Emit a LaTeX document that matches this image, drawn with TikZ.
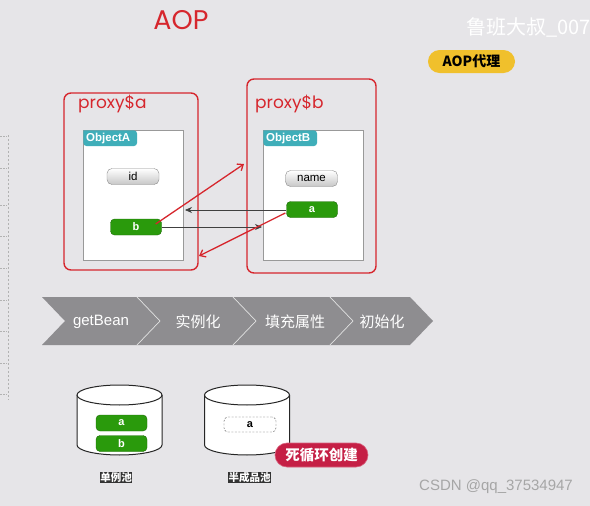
\documentclass[tikz,border=0pt]{standalone}
\usepackage{fontspec}
\setmainfont{Liberation Sans}
\newfontfamily\cjk{Noto Sans CJK SC}
\newfontfamily\geo{Poppins}
\usetikzlibrary{arrows.meta,shapes.misc,calc}
\definecolor{bg}{HTML}{E6E5E8}
\definecolor{pred}{HTML}{D6262D}
\definecolor{beangreen}{HTML}{2A9A0C}
\definecolor{tabteal}{HTML}{3FAEB9}
\definecolor{chev}{HTML}{8E8D90}
\definecolor{pillyel}{HTML}{F0C02C}
\definecolor{crimson}{HTML}{C51F45}
\tikzset{
  proxybox/.style={draw=pred,line width=1.4pt,rounded corners=7pt},
  objbox/.style={draw=black!40,fill=white,line width=0.8pt},
  tablabel/.style={text=white,font=\bfseries\fontsize{11.5}{13}\selectfont,anchor=west,inner sep=0pt},
  grayfield/.style={rectangle,rounded corners=5pt,draw=black!45,top color=white,bottom color=black!22,font=\fontsize{11.5}{13}\selectfont,minimum width=52pt,minimum height=16pt,inner sep=0pt},
  greenbean/.style={draw=beangreen!70!black,fill=beangreen,rounded corners=4pt,text=white,font=\bfseries\fontsize{11}{13}\selectfont,minimum width=51pt,minimum height=16pt,inner sep=0pt},
  dashbean/.style={draw=black!70,dash pattern=on 2pt off 1.5pt,rounded corners=4pt,font=\bfseries\fontsize{11}{13}\selectfont,minimum width=52pt,minimum height=15pt,inner sep=0pt},
  redarrow/.style={draw=pred,line width=1.3pt,-{Straight Barb[length=5pt,width=8pt]}},
  blackarrow/.style={draw=black!75,line width=0.7pt,-{Stealth[length=7pt,width=6pt]}},
  chevtext/.style={text=white,font=\fontsize{15}{18}\selectfont},
  cylline/.style={draw=black!85,line width=1pt,fill=white},
  poollabel/.style={fill=black!80,text=white,font=\cjk\bfseries\fontsize{10.5}{12}\selectfont,inner sep=0.5pt},
}
\begin{document}
\begin{tikzpicture}[x=1pt,y=-1pt]
\fill[bg] (0,0) rectangle (590,506);
\useasboundingbox (0,0) rectangle (590,506);

% left dashed ruler
\draw[black!30,dash pattern=on 2pt off 2pt,line width=0.6pt] (8,135) -- (8,400);
\foreach \yy in {136,168,205,236,268,300,331,363,394}
  \draw[black!30,dash pattern=on 1.5pt off 1.5pt,line width=0.6pt] (0,\yy) -- (7,\yy);

% title and watermark
\node[text=pred,font=\geo\fontsize{27}{30}\selectfont] (title) at (181,20) {AOP};
\node[text=white,font=\cjk\fontsize{20}{23}\selectfont,anchor=west,inner sep=0pt] (wm) at (466,27) {鲁班大叔\_007};
\node[rounded rectangle,fill=pillyel,minimum width=87pt,minimum height=23pt,inner sep=0pt,font=\cjk\bfseries\fontsize{14}{16}\selectfont] (aoppill) at (471.5,61.5) {AOP代理};

% proxy boxes
\draw[proxybox] (64,93) rectangle (198,270);
\node[text=pred,font=\geo\fontsize{17}{20}\selectfont,anchor=west,inner sep=0pt] (palabel) at (78,104) {proxy\$a};
\draw[proxybox] (247,79) rectangle (376,273);
\node[text=pred,font=\geo\fontsize{17}{20}\selectfont,anchor=west,inner sep=0pt] (pblabel) at (255,104) {proxy\$b};

% object boxes
\draw[objbox] (83,130) rectangle (183,260);
\fill[tabteal,rounded corners=3pt] (83.4,130.4) -- (137,130.4) -- (137,146) -- (83.4,146) [sharp corners] -- cycle;
\node[tablabel] (tabA) at (86,138.5) {ObjectA};
\draw[objbox] (263,130) rectangle (363,260);
\fill[tabteal,rounded corners=3pt] (263.4,130.4) -- (317,130.4) -- (317,146) -- (263.4,146) [sharp corners] -- cycle;
\node[tablabel] (tabB) at (266,138.5) {ObjectB};

% fields
\node[grayfield] (id) at (133,176.5) {id};
\node[grayfield] (name) at (311.5,178.5) {name};
\node[greenbean] (b) at (136,227) {b};
\node[greenbean] (a) at (312,209.5) {a};

% arrows
\coordinate (r1end) at (244,164);
\coordinate (r2end) at (199,256);
\coordinate (k1end) at (185,210);
\coordinate (k2end) at (262,227);
\draw[blackarrow] (a.west |- k1end) -- (k1end);
\draw[blackarrow] (b.east |- k2end) -- (k2end);
\draw[redarrow] ($(b.east)+(-6,-3)$) -- (r1end);
\draw[redarrow] ($(a.west)+(-1,3.5)$) -- (r2end);

% chevron process
\foreach \s/\t in {42/137,137/233,233/330,330/410}
  \fill[chev] (\s,297) -- (\t,297) -- (\t+23,321) -- (\t,345) -- (\s,345) -- (\s+23,321) -- cycle;
\foreach \t in {137,233,330}
  \draw[white!88!black,line width=0.7pt] (\t,297) -- (\t+23,321) -- (\t,345);
\node[chevtext] (c1) at (101,322) {getBean};
\node[chevtext,font=\cjk\fontsize{15}{18}\selectfont] (c2) at (198,322) {实例化};
\node[chevtext,font=\cjk\fontsize{15}{18}\selectfont] (c3) at (295,322) {填充属性};
\node[chevtext,font=\cjk\fontsize{15}{18}\selectfont] (c4) at (382,322) {初始化};

% cylinders
\foreach \cx in {119.5,247}{
  \draw[cylline] (\cx-42.5,395) -- (\cx-42.5,445) arc[start angle=180,end angle=0,x radius=42.5,y radius=10] -- (\cx+42.5,395);
  \draw[cylline] (\cx,395) ellipse[x radius=42.5,y radius=10];
}
\node[greenbean] (pa1) at (121.5,423) {a};
\node[greenbean] (pb1) at (121.5,443.5) {b};
\node[dashbean] (ha) at (250,424.5) {a};
\node[poollabel] (l1) at (116,477.5) {单例池};
\node[poollabel] (l2) at (249.5,477.5) {半成品池};
\node[rounded rectangle,fill=crimson,draw=crimson!70!white,line width=0.6pt,text=white,minimum width=93pt,minimum height=24pt,inner sep=0pt,font=\cjk\bfseries\fontsize{14.5}{17}\selectfont] (dead) at (321.5,455) {死循环创建};

% csdn watermark
\node[text=black!35,font=\fontsize{15}{17}\selectfont,anchor=west,inner sep=0pt] (csdn) at (419,487) {CSDN @qq\_37534947};
\end{tikzpicture}
\end{document}
